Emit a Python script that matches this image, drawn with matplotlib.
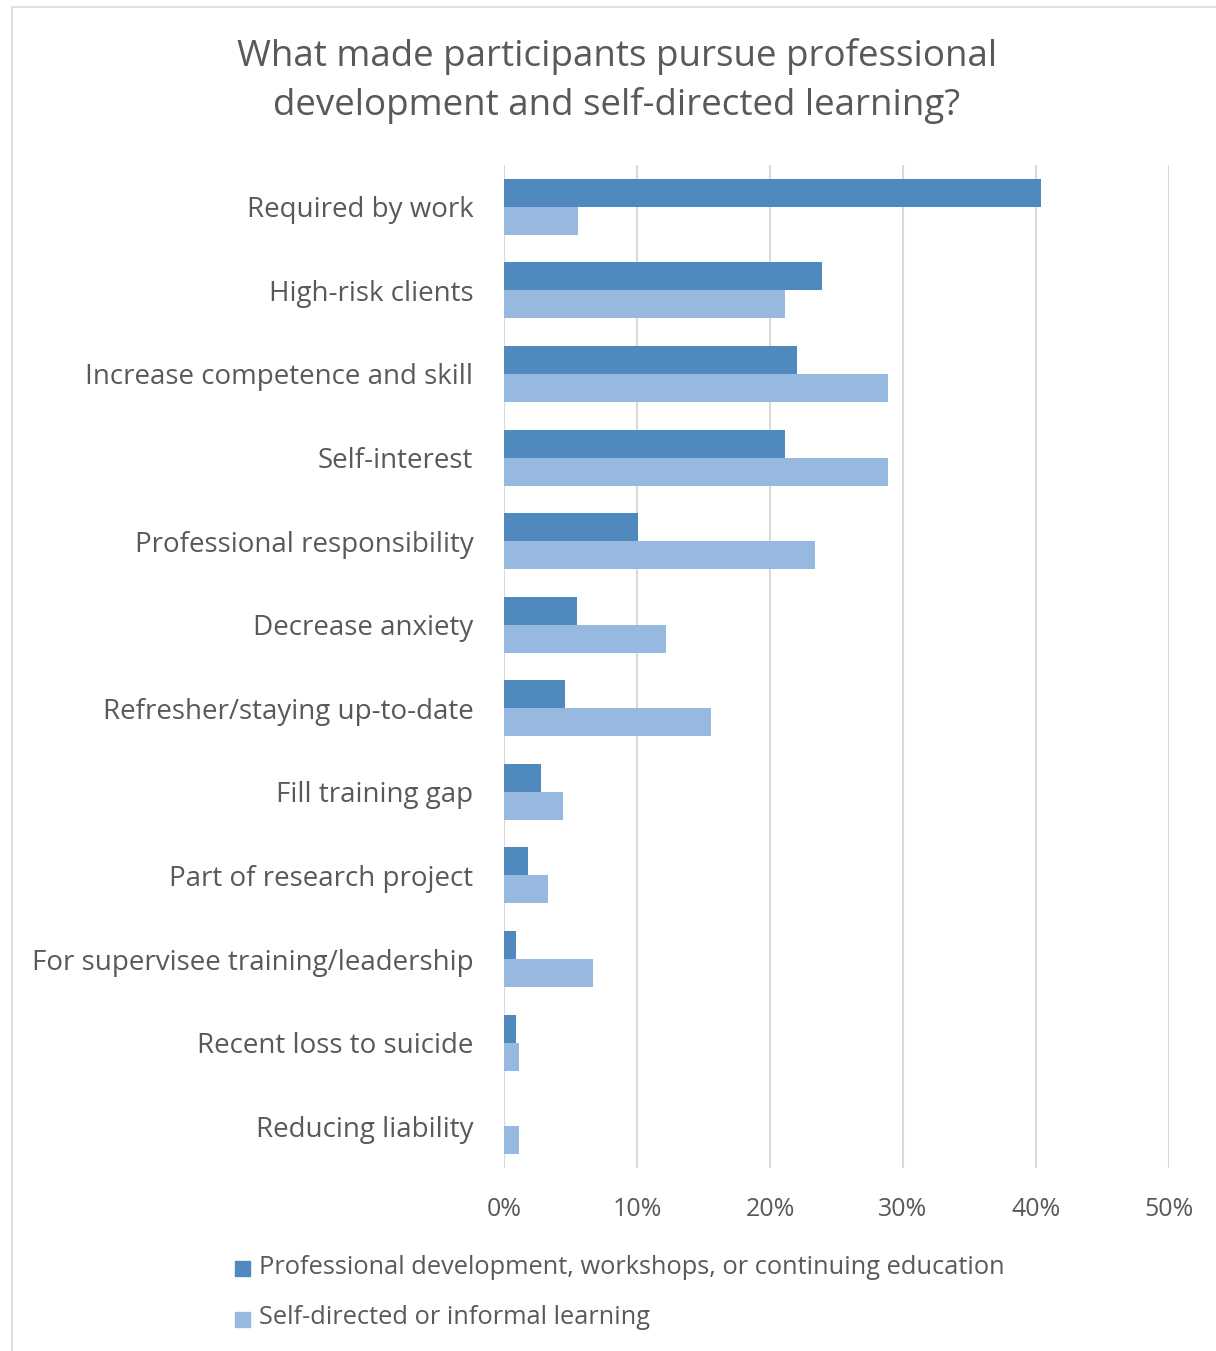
import matplotlib
matplotlib.use("Agg")
import matplotlib.pyplot as plt
from matplotlib.patches import Rectangle
import numpy as np

categories = [
    "Required by work",
    "High-risk clients",
    "Increase competence and skill",
    "Self-interest",
    "Professional responsibility",
    "Decrease anxiety",
    "Refresher/staying up-to-date",
    "Fill training gap",
    "Part of research project",
    "For supervisee training/leadership",
    "Recent loss to suicide",
    "Reducing liability",
]
professional_dev = [40.4, 23.9, 22.0, 21.1, 10.1, 5.5, 4.6, 2.8, 1.8, 0.9, 0.9, 0.0]
self_directed = [5.6, 21.1, 28.9, 28.9, 23.4, 12.2, 15.6, 4.4, 3.3, 6.7, 1.1, 1.1]
series_names = [
    "Professional development, workshops, or continuing education",
    "Self-directed or informal learning",
]
xticks = [0, 10, 20, 30, 40, 50]

DARK = "#4F89BD"
LIGHT = "#97B9E0"
TEXT = "#595959"
GRID = "#D9D9D9"
FONT = ["Open Sans", "DejaVu Sans"]

plt.rcParams["font.family"] = FONT

W, H = 1216, 1351
fig = plt.figure(figsize=(W / 100, H / 100), dpi=100)

# chart frame
fig.patches.append(Rectangle((12 / W, -0.1), 1.2, 1 - 7 / H + 0.1,
                             transform=fig.transFigure, fill=False,
                             edgecolor="#D9D9D9", linewidth=1.2))

ax = fig.add_axes([504 / W, 1 - 1168 / H, (1169 - 504) / W, (1168 - 165) / H])

n = len(categories)
y = np.arange(n)
h = 0.335
ax.barh(y - h / 2, professional_dev, height=h, color=DARK, label=series_names[0], zorder=3)
ax.barh(y + h / 2, self_directed, height=h, color=LIGHT, label=series_names[1], zorder=3)

ax.set_ylim(n - 0.5, -0.5)
ax.set_xlim(0, 50)
ax.set_xticks(xticks)
ax.set_xticklabels([f"{t}%" for t in xticks], fontsize=18, color=TEXT)
ax.set_yticks(y)
ax.set_yticklabels(categories, fontsize=20, color=TEXT)
ax.tick_params(axis="both", length=0)
ax.tick_params(axis="x", pad=21)
ax.tick_params(axis="y", pad=22)
ax.grid(axis="x", color=GRID, linewidth=1.5, zorder=0)
for s in ax.spines.values():
    s.set_visible(False)

fig.text(617 / W, 1 - 81 / H,
         "What made participants pursue professional\ndevelopment and self-directed learning?",
         ha="center", va="center", fontsize=26.5, color=TEXT, linespacing=1.45)

# legend
for i, (name, col) in enumerate(zip(series_names, [DARK, LIGHT])):
    yc = 1268 + i * 51
    fig.patches.append(Rectangle((235 / W, 1 - (yc + 8) / H), 15 / W, 15 / H,
                                 transform=fig.transFigure, color=col))
    fig.text(259 / W, 1 - (yc - 1) / H, name, ha="left", va="center",
             fontsize=18.3, color=TEXT)

fig.savefig("out.png", dpi=100, facecolor="white")
